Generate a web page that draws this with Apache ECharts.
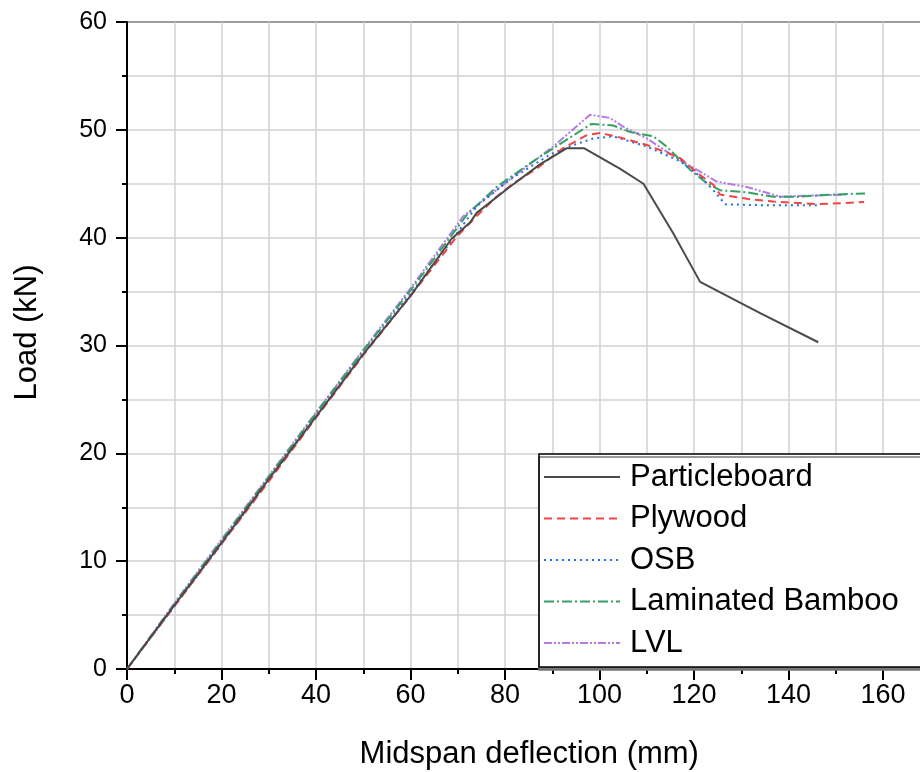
<!DOCTYPE html>
<html>
<head>
<meta charset="utf-8">
<script src="https://cdn.jsdelivr.net/npm/echarts@6/dist/echarts.min.js"></script>
<style>
  html, body { margin: 0; padding: 0; background: #fff; }
  #chart { width: 920px; height: 772px; }
</style>
</head>
<body>
<div id="chart"></div>
<script>
// deflection (mm), load (kN)
const particleboard = [
  [0, 0], [10, 5.9], [20, 11.7], [30, 17.6], [40, 23.4], [50, 29.2], [60, 34.6],
  [68.7, 39.9], [72.6, 41.4], [74, 42.3], [80.7, 44.6], [87.4, 46.8], [93.1, 48.3],
  [96.7, 48.3], [104.3, 46.4], [109.3, 45.0], [115.6, 40.4], [121.3, 35.9],
  [134, 33.0], [146.3, 30.3],
];
const plywood = [
  [0, 0], [10, 5.8], [20, 11.6], [30, 17.4], [40, 23.3], [50, 29.1], [60, 34.6],
  [69.8, 40.1], [74, 42.0], [78.2, 43.8], [81.8, 45.05], [86.7, 46.4], [92.3, 48.3],
  [97.3, 49.5], [100.1, 49.7], [104.3, 49.3], [110, 48.6], [117, 47.4], [121.3, 45.8],
  [124.1, 44.9], [125.5, 44.0], [131.2, 43.6], [136.8, 43.35], [146, 43.1], [156, 43.3],
];
const osb = [
  [0, 0], [10, 5.8], [20, 11.6], [30, 17.5], [40, 23.4], [50, 29.2], [60, 34.8],
  [67.3, 38.9], [74, 42.9], [81.1, 45.4], [89.5, 47.7], [94.5, 48.6], [98.7, 49.2],
  [102.9, 49.4], [110, 48.45], [117, 47.1], [121.3, 45.7], [124.1, 44.4], [126.6, 43.1],
  [135, 43.0], [146, 43.0],
];
const laminatedBamboo = [
  [0, 0], [10, 6.0], [20, 11.9], [30, 17.8], [40, 23.7], [50, 29.5], [60, 35.1],
  [71.9, 42.1], [78.2, 44.7], [85.3, 46.9], [93.1, 49.1], [98.3, 50.55], [102.9, 50.4],
  [106.5, 49.8], [111.4, 49.4], [114.2, 48.45], [119.2, 46.3], [122.7, 45.05],
  [125.5, 44.4], [131.2, 44.2], [136.8, 43.8], [142, 43.8], [149.5, 44.0], [156.2, 44.1],
];
const lvl = [
  [0, 0], [10, 6.1], [20, 12.0], [30, 17.9], [40, 23.8], [50, 29.6], [60, 35.3],
  [71.2, 42.0], [80.4, 45.2], [90.2, 48.45], [98, 51.4], [102.2, 51.1], [105, 50.3],
  [110, 49.2], [117, 47.2], [120.6, 46.3], [124.8, 45.2], [131.2, 44.7], [138.2, 43.8],
  [145, 43.9], [152.3, 44.0],
];

const seriesNames = ['Particleboard', 'Plywood', 'OSB', 'Laminated Bamboo', 'LVL'];
const seriesData = [particleboard, plywood, osb, laminatedBamboo, lvl];
const colors = ['#4a4a4a', '#f04444', '#2070e8', '#34a062', '#b47ae6'];
const dashes = ['solid', [8, 5], [2, 4], [10, 3, 2, 3], [8, 2, 2, 2, 2, 2]];

const font = '"Liberation Sans", Arial, sans-serif';

const chart = echarts.init(document.getElementById('chart'));

const option = {
  animation: false,
  backgroundColor: '#fff',
  grid: {
    left: 127,
    top: 22,
    width: 850.5,
    height: 647,
    outerBoundsMode: 'none',
    containLabel: false,
    show: true,
    borderColor: '#000',
    borderWidth: 2,
    backgroundColor: 'transparent',
  },
  legend: {
    orient: 'vertical',
    left: 539,
    top: 454,
    data: seriesNames,
    itemWidth: 76,
    itemHeight: 14,
    itemGap: 9.5,
    padding: [7, 60, 8, 4],
    backgroundColor: '#fff',
    borderColor: '#000',
    borderWidth: 1.5,
    borderRadius: 0,
    shadowColor: '#777',
    shadowBlur: 0,
    shadowOffsetX: 0,
    shadowOffsetY: 3,
    itemStyle: { opacity: 0 },
    textStyle: {
      fontFamily: font,
      fontSize: 31,
      color: '#000',
      lineHeight: 32,
      padding: [0, 0, 0, 5],
    },
  },
  xAxis: {
    type: 'value',
    min: 0,
    max: 180,
    interval: 20,
    name: 'Midspan deflection (mm)',
    nameLocation: 'middle',
    nameGap: 70,
    nameTextStyle: { fontFamily: font, fontSize: 31, color: '#000', padding: [0, 46, 0, 0] },
    axisLine: { onZero: false, lineStyle: { color: '#000', width: 2 } },
    axisTick: { show: true, length: 11, lineStyle: { color: '#000', width: 2 } },
    minorTick: { show: true, splitNumber: 2, length: 5, lineStyle: { color: '#000', width: 2 } },
    axisLabel: { fontFamily: font, fontSize: 27, color: '#000', margin: 13, showMaxLabel: false },
    splitLine: { show: true, lineStyle: { color: '#d2d2d2', width: 1.5 } },
    minorSplitLine: { show: true, lineStyle: { color: '#d2d2d2', width: 1.5 } },
  },
  yAxis: {
    type: 'value',
    min: 0,
    max: 60,
    interval: 10,
    name: 'Load (kN)',
    nameLocation: 'middle',
    nameGap: 84,
    nameTextStyle: { fontFamily: font, fontSize: 31, color: '#000', padding: [0, 0, 0, 26] },
    axisLine: { onZero: false, lineStyle: { color: '#000', width: 2 } },
    axisTick: { show: true, length: 11, lineStyle: { color: '#000', width: 2 } },
    minorTick: { show: true, splitNumber: 2, length: 5, lineStyle: { color: '#000', width: 2 } },
    axisLabel: { fontFamily: font, fontSize: 25, color: '#000', margin: 20 },
    splitLine: { show: true, lineStyle: { color: '#d2d2d2', width: 1.5 } },
    minorSplitLine: { show: true, lineStyle: { color: '#d2d2d2', width: 1.5 } },
  },
  series: seriesNames.map((name, i) => ({
    name,
    type: 'line',
    data: seriesData[i],
    symbol: 'none',
    color: colors[i],
    lineStyle: { color: colors[i], width: 2, type: dashes[i] },
    z: 2 + (seriesNames.length - i),
  })),
};

chart.setOption(option);
</script>
</body>
</html>
